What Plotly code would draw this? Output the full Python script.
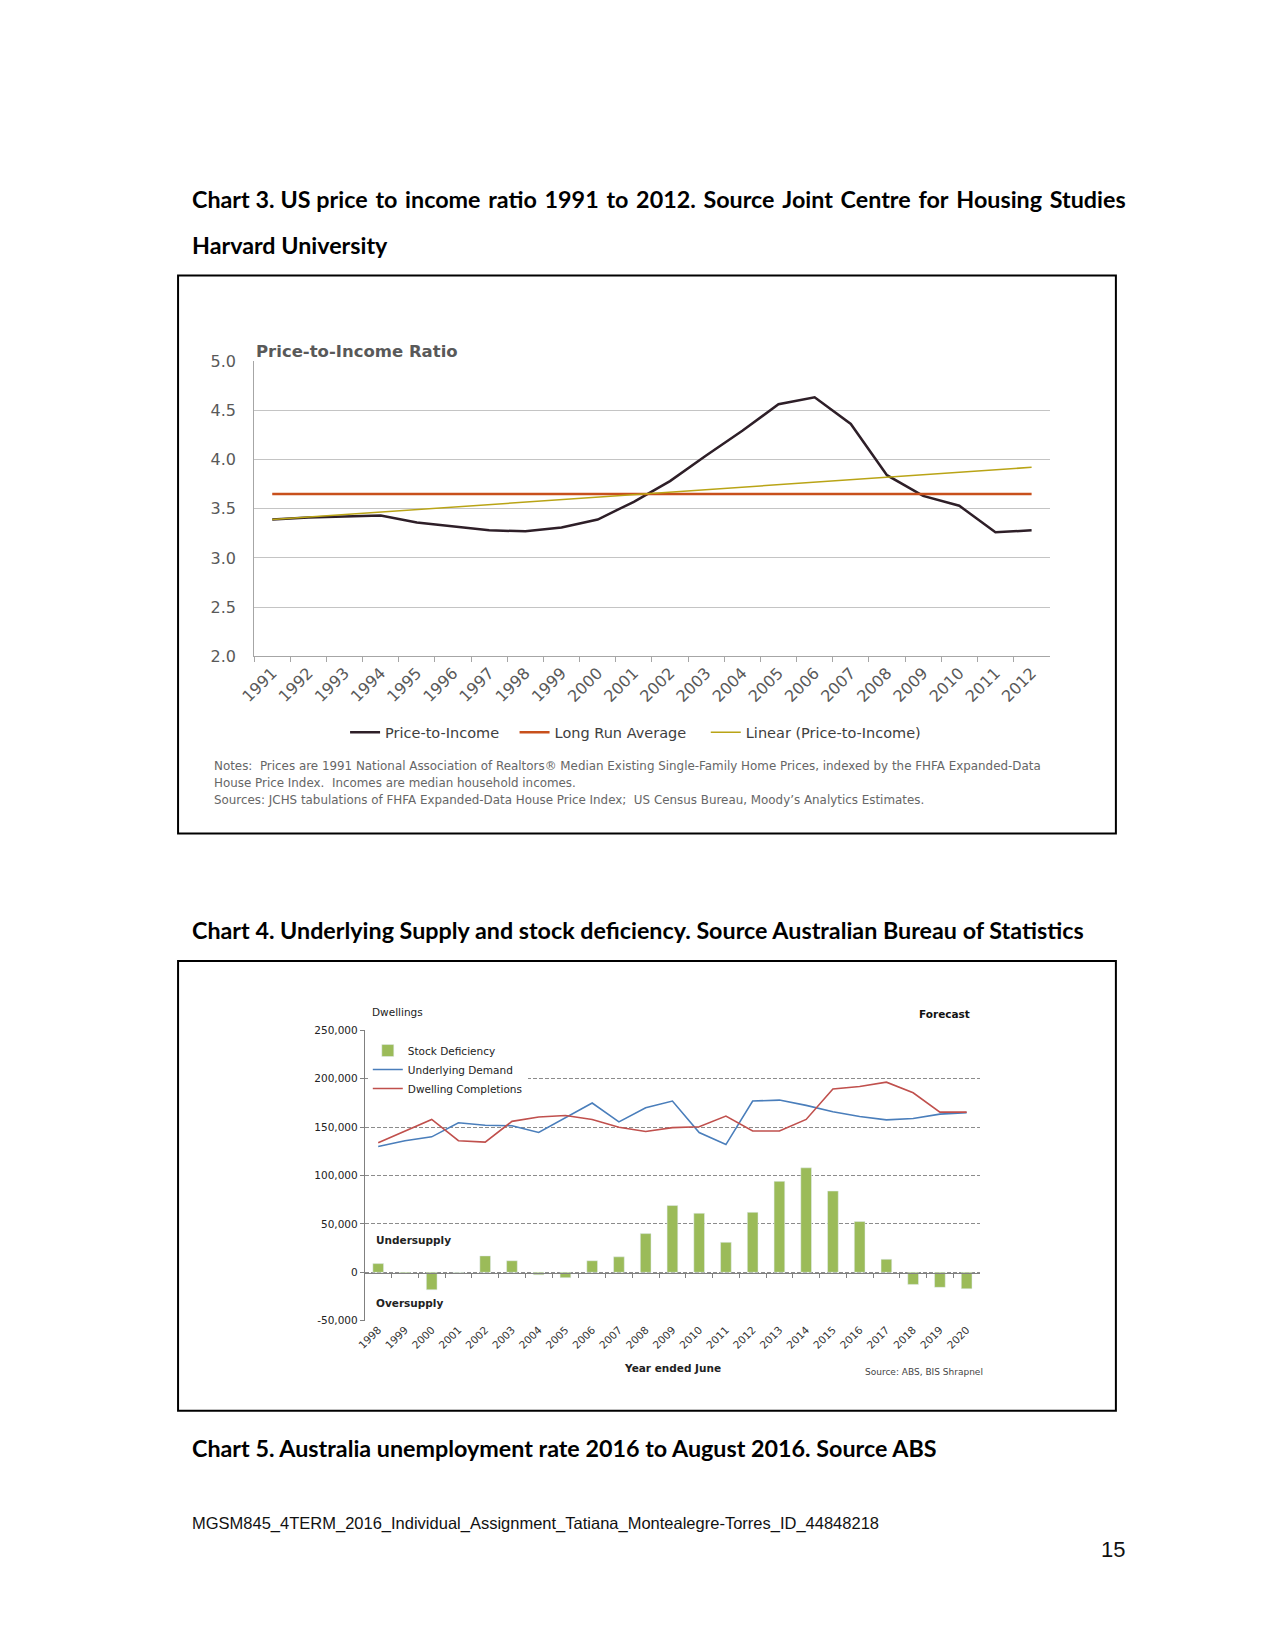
import plotly.graph_objects as go

W, H = 1275, 1650
def fx(px): return px / W
def fy(py): return 1 - py / H

# ---------------- Chart 3 data ----------------
years3 = ["1991", "1992", "1993", "1994", "1995", "1996", "1997", "1998", "1999", "2000", "2001",
          "2002", "2003", "2004", "2005", "2006", "2007", "2008", "2009", "2010", "2011", "2012"]
price_to_income = [3.39, 3.41, 3.42, 3.43, 3.36, 3.32, 3.28, 3.27, 3.31, 3.39, 3.57,
                   3.78, 4.04, 4.29, 4.56, 4.63, 4.36, 3.84, 3.63, 3.53, 3.26, 3.28]
long_run_average = 3.65
trend_years = ["1991", "2012"]
trend_values = [3.39, 3.92]
y3_ticks = [2.0, 2.5, 3.0, 3.5, 4.0, 4.5, 5.0]

# ---------------- Chart 4 data ----------------
years4 = ["1998", "1999", "2000", "2001", "2002", "2003", "2004", "2005", "2006", "2007", "2008", "2009",
          "2010", "2011", "2012", "2013", "2014", "2015", "2016", "2017", "2018", "2019", "2020"]
stock_deficiency = [9000, -1000, -18000, -500, 17000, 12000, -2500, -5500, 12000, 16000, 40000, 69000,
                    61000, 31000, 62000, 94000, 108000, 84000, 52500, 13500, -12500, -15500, -17000]
underlying_demand = [130000, 136000, 140000, 154500, 152000, 151500, 144500, 160000, 175000, 155500, 170000, 177000,
                     144500, 132000, 177000, 178000, 172500, 166000, 161000, 157500, 159000, 163500, 165000]
dwelling_completions = [134000, 146000, 158000, 136000, 134500, 156000, 160500, 162000, 158000, 150000, 145500, 149500,
                        150500, 161500, 146000, 146000, 158000, 189500, 192000, 196500, 185500, 165500, 165500]
forecast_start = "2015"
y4_tickvals = [-50000, 0, 50000, 100000, 150000, 200000, 250000]
y4_ticktext = ["-50,000", "0", "50,000", "100,000", "150,000", "200,000", "250,000"]

DV = "DejaVu Sans"

fig = go.Figure()

# Chart 3 traces (each in its own legend box so the spacing can follow the original)
fig.add_trace(go.Scatter(x=years3, y=price_to_income, mode="lines", name="Price-to-Income",
                         line=dict(color="#2e1f28", width=2.5), xaxis="x", yaxis="y", legend="legend2"))
fig.add_trace(go.Scatter(x=years3, y=[long_run_average] * len(years3), mode="lines", name="Long Run Average",
                         line=dict(color="#c8501c", width=2.5), xaxis="x", yaxis="y", legend="legend3"))
fig.add_trace(go.Scatter(x=trend_years, y=trend_values, mode="lines", name="Linear (Price-to-Income)",
                         line=dict(color="#b9a416", width=1.5), xaxis="x", yaxis="y", legend="legend4"))

# Chart 4 traces
fig.add_trace(go.Bar(x=years4, y=stock_deficiency, name="Stock Deficiency", marker_color="#9bbb59",
                     xaxis="x4", yaxis="y3", legend="legend"))
fig.add_trace(go.Scatter(x=years4, y=underlying_demand, mode="lines", name="Underlying Demand",
                         line=dict(color="#4a7ebb", width=1.6), xaxis="x3", yaxis="y3", legend="legend"))
fig.add_trace(go.Scatter(x=years4, y=dwelling_completions, mode="lines", name="Dwelling Completions",
                         line=dict(color="#c0504d", width=1.6), xaxis="x3", yaxis="y3", legend="legend"))

leg3_font = dict(family=DV, size=14.5, color="#404040")
def hleg(px_line_start):
    return dict(orientation="h", x=fx(px_line_start - 10), y=fy(731.7), xanchor="left", yanchor="middle",
                bgcolor="rgba(0,0,0,0)", font=leg3_font, itemwidth=30)

fig.update_layout(
    width=W, height=H, autosize=False,
    margin=dict(l=0, r=0, t=0, b=0),
    paper_bgcolor="white", plot_bgcolor="rgba(0,0,0,0)",
    bargap=0.6,
    # Chart 3 axes
    xaxis=dict(domain=[fx(242), fx(1047)], anchor="y", type="category", range=[-0.5, len(years3) - 0.5],
               tickson="boundaries", ticks="outside", ticklen=5, tickcolor="#a6a6a6",
               showline=True, linecolor="#a6a6a6", linewidth=1, showgrid=False, tickangle=-45,
               tickfont=dict(family=DV, size=16, color="#595959")),
    yaxis=dict(domain=[fy(655), fy(356)], anchor="x", range=[2, 5], tickvals=y3_ticks, tickformat=".1f",
               gridcolor="#c4c4c4", gridwidth=1, showline=True, linecolor="#a6a6a6", zeroline=False,
               ticks="", ticklabelstandoff=14, tickfont=dict(family=DV, size=16, color="#595959")),
    # Chart 4 axes
    xaxis3=dict(domain=[fx(354), fx(976.5)], anchor="y3", type="category", range=[-0.5, len(years4) - 0.5],
                showline=False, ticks="", showgrid=False, tickangle=-45,
                tickfont=dict(family=DV, size=10.5, color="#333333")),
    xaxis4=dict(overlaying="x3", anchor="free", position=fy(1278.3), type="category",
                range=[-0.5, len(years4) - 0.5], tickson="boundaries", ticks="outside", ticklen=4,
                tickcolor="#808080", showline=True, linecolor="#808080", linewidth=1.2,
                showticklabels=False, showgrid=False),
    yaxis3=dict(domain=[fy(1327), fy(1033.3)], anchor="x3", range=[-50000, 250000],
                tickvals=y4_tickvals, ticktext=y4_ticktext, gridcolor="#8c8c8c", griddash="4px,2px",
                gridwidth=1, showline=True, linecolor="#808080", ticks="outside", ticklen=4,
                tickcolor="#808080", zeroline=False, tickfont=dict(family=DV, size=10.5, color="#222222")),
    legend=dict(x=fx(357), y=fy(1039), xanchor="left", yanchor="top", bgcolor="white",
                font=dict(family=DV, size=10.5, color="#222222"), tracegroupgap=0, itemwidth=30),
    legend2=hleg(344),
    legend3=hleg(515.5),
    legend4=hleg(709),
    showlegend=True,
)

# forecast divider
fig.add_shape(type="line", xref="x3", yref="y3", x0=forecast_start, x1=forecast_start,
              y0=y4_tickvals[0], y1=y4_tickvals[-1], line=dict(color="#595959", width=1.5))

# boxes around charts
for (x0, y0, x1, y1) in [(165, 269.5, 1114, 834), (165, 963, 1114, 1418)]:
    fig.add_shape(type="rect", xref="paper", yref="paper", x0=fx(x0), x1=fx(x1), y0=fy(y1), y1=fy(y0),
                  line=dict(color="black", width=2), fillcolor="rgba(0,0,0,0)")

ann = []
def text(px, py, s, size, family, color="black", xanchor="left", bold=False):
    ann.append(dict(x=fx(px), y=fy(py), xref="paper", yref="paper", text=("<b>%s</b>" % s) if bold else s,
                    showarrow=False, xanchor=xanchor, yanchor="middle",
                    font=dict(size=size, family=family, color=color)))

LATO = "Lato"
TS = 23.3
# first caption line is justified in the original: use slightly wider spaces
caption3_words = ["Chart", "3.", "US", "price", "to", "income", "ratio", "1991", "to", "2012.", "Source",
                  "Joint", "Centre", "for", "Housing", "Studies"]
line1 = caption3_words[0]
for i, w in enumerate(caption3_words[1:]):
    line1 += ("\u2005" if i < 3 else "\u2004") + w
text(177, 192.5, line1, TS, LATO, bold=True)
text(177, 238.5, "Harvard University", TS, LATO, bold=True)
text(242, 346.5, "Price-to-Income Ratio", 16.5, DV, "#595959", bold=True)
text(199, 766, "Notes:  Prices are 1991 National Association of Realtors® Median Existing Single-Family Home Prices, indexed by the FHFA Expanded-Data", 11.9, DV, "#666666")
text(199, 783, "House Price Index.  Incomes are median household incomes.", 11.9, DV, "#666666")
text(199, 800, "Sources: JCHS tabulations of FHFA Expanded-Data House Price Index;  US Census Bureau, Moody’s Analytics Estimates.", 11.9, DV, "#666666")

text(177, 932, "Chart 4. Underlying Supply and stock deficiency. Source Australian Bureau of Statistics", TS, LATO, bold=True)
text(359, 1014.5, "Dwellings", 10.5, DV, "#222222")
text(968, 1016.5, "Forecast", 10.5, DV, "#111111", xanchor="right", bold=True)
text(363, 1245, "Undersupply", 10.5, DV, "#222222", bold=True)
text(363, 1309.5, "Oversupply", 10.5, DV, "#222222", bold=True)
text(665, 1375, "Year ended June", 10.5, DV, "#222222", xanchor="center", bold=True)
text(982, 1379, "Source: ABS, BIS Shrapnel", 9, DV, "#444444", xanchor="right")

text(177, 1456, "Chart 5. Australia unemployment rate 2016 to August 2016. Source ABS", TS, LATO, bold=True)
text(177, 1532, "MGSM845_4TERM_2016_Individual_Assignment_Tatiana_Montealegre-Torres_ID_44848218", 16.5, "Liberation Sans", "#111111")
text(1125, 1558, "15", 22, "Liberation Sans", "#111111", xanchor="right")

fig.update_layout(annotations=ann)
fig.write_html("out.html", config={"displayModeBar": False},
               post_script="document.body.style.margin='0';document.body.style.overflow='hidden';")
